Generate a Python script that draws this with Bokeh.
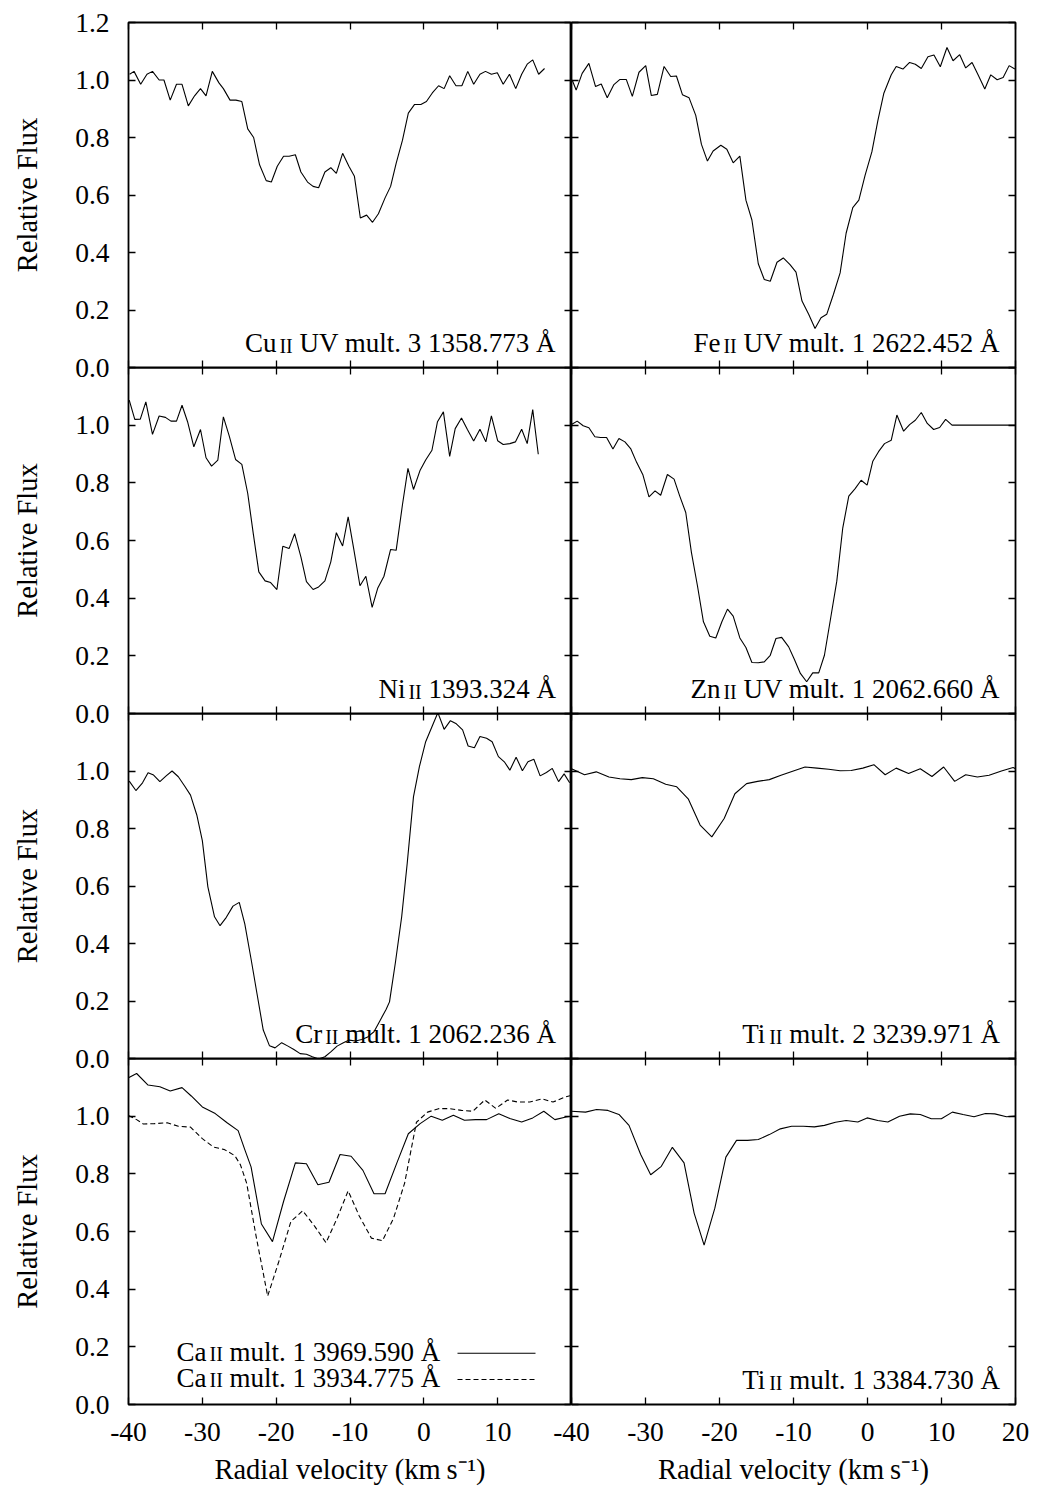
from bokeh.plotting import figure
from bokeh.layouts import row, column
from bokeh.models import Range1d, FixedTicker, PrintfTickFormatter, LinearAxis, Label, Arrow
from bokeh.embed import file_html
from bokeh.resources import INLINE

# ---------------- data (radial velocity km/s, relative flux) ----------------
cu_pts = [(-39.85,1.02),(-39.25,1.03),(-38.35,0.985),(-37.5,1.02),(-36.75,1.03),(-35.85,1.0),(-35.2,1.0),(-34.35,0.93),(-33.5,0.985),(-32.75,0.985),(-31.9,0.91),(-31.05,0.945),(-30.25,0.97),(-29.5,0.945),(-28.65,1.03),(-27.75,0.99),(-27.15,0.97),(-26.25,0.93),(-25.45,0.93),(-24.65,0.925),(-23.85,0.83),(-23.05,0.80),(-22.25,0.705),(-21.35,0.65),(-20.65,0.645),(-19.85,0.70),(-19.0,0.735),(-18.25,0.735),(-17.4,0.74),(-16.65,0.68),(-15.75,0.645),(-15.0,0.63),(-14.25,0.625),(-13.4,0.68),(-12.6,0.695),(-11.85,0.675),(-11.0,0.745),(-10.15,0.70),(-9.4,0.665),(-8.6,0.52),(-7.75,0.53),(-6.95,0.505),(-6.15,0.535),(-5.25,0.59),(-4.5,0.63),(-3.75,0.71),(-2.9,0.79),(-2.1,0.885),(-1.25,0.915),(-0.4,0.915),(0.35,0.925),(1.15,0.955),(2.0,0.98),(2.75,0.97),(3.5,1.015),(4.35,0.98),(5.15,0.98),(5.95,1.03),(6.75,0.985),(7.6,1.02),(8.35,1.03),(9.15,1.02),(9.95,1.025),(10.75,0.985),(11.6,1.02),(12.45,0.97),(13.25,1.02),(14.0,1.055),(14.75,1.07),(15.55,1.02),(16.35,1.04)]

fe_pts = [(-39.91,1.0),(-39.37,0.965),(-38.56,1.023),(-37.65,1.058),(-36.75,0.977),(-35.98,0.986),(-35.17,0.938),(-34.27,0.984),(-33.45,1.002),(-32.6,1.002),(-31.78,0.943),(-30.88,1.027),(-29.97,1.05),(-29.21,0.946),(-28.4,0.95),(-27.49,1.047),(-26.59,1.012),(-25.82,1.014),(-25.01,0.949),(-24.11,0.938),(-23.21,0.877),(-22.44,0.776),(-21.63,0.718),(-20.86,0.753),(-19.82,0.773),(-19.01,0.759),(-18.15,0.712),(-17.25,0.735),(-16.43,0.582),(-15.62,0.513),(-14.76,0.361),(-13.95,0.306),(-13.14,0.30),(-12.23,0.366),(-11.38,0.381),(-10.47,0.358),(-9.66,0.332),(-8.85,0.231),(-7.95,0.185),(-7.09,0.136),(-6.28,0.173),(-5.51,0.185),(-4.61,0.254),(-3.7,0.329),(-2.89,0.467),(-1.99,0.556),(-1.17,0.582),(-0.32,0.669),(0.59,0.75),(1.4,0.859),(2.21,0.954),(3.21,1.018),(3.88,1.047),(4.79,1.038),(5.69,1.061),(6.46,1.055),(7.27,1.04),(8.17,1.081),(8.98,1.087),(9.84,1.046),(10.74,1.113),(11.56,1.067),(12.46,1.088),(13.27,1.042),(14.13,1.061),(14.94,1.018),(15.85,0.969),(16.66,1.018),(17.52,1.001),(18.33,1.009),(19.14,1.05),(19.91,1.038)]

ni_pts = [(-39.9,1.087),(-39.15,1.02),(-38.4,1.021),(-37.65,1.081),(-36.75,0.968),(-35.85,1.032),(-35.0,1.027),(-34.25,1.014),(-33.5,1.014),(-32.75,1.069),(-32.0,1.012),(-31.15,0.925),(-30.25,0.985),(-29.5,0.887),(-28.75,0.858),(-27.9,0.879),(-27.15,1.029),(-26.35,0.962),(-25.5,0.881),(-24.65,0.864),(-23.85,0.763),(-23.1,0.624),(-22.35,0.491),(-21.5,0.46),(-20.75,0.454),(-19.9,0.43),(-19.1,0.58),(-18.25,0.572),(-17.5,0.624),(-16.65,0.543),(-15.9,0.457),(-15.0,0.43),(-14.25,0.439),(-13.4,0.46),(-12.6,0.526),(-11.85,0.627),(-11.0,0.581),(-10.25,0.682),(-9.5,0.572),(-8.65,0.443),(-7.85,0.476),(-7.0,0.368),(-6.25,0.434),(-5.4,0.476),(-4.5,0.569),(-3.75,0.566),(-2.9,0.723),(-2.15,0.85),(-1.4,0.777),(-0.5,0.844),(0.25,0.879),(1.1,0.913),(1.85,1.012),(2.65,1.046),(3.5,0.892),(4.25,0.988),(5.1,1.025),(5.9,0.985),(6.75,0.945),(7.6,0.986),(8.4,0.942),(9.15,1.032),(10.0,0.946),(10.75,0.933),(11.65,0.936),(12.4,0.942),(13.25,0.986),(14.0,0.936),(14.75,1.054),(15.5,0.899)]

zn_pts = [(-40.0,1.002),(-39.23,1.014),(-38.42,0.998),(-37.65,0.991),(-36.84,0.96),(-36.07,0.957),(-35.26,0.957),(-34.4,0.917),(-33.59,0.954),(-32.78,0.942),(-32.01,0.919),(-31.2,0.871),(-30.34,0.827),(-29.53,0.751),(-28.71,0.772),(-27.95,0.757),(-27.04,0.829),(-26.14,0.813),(-25.37,0.754),(-24.56,0.697),(-23.79,0.558),(-22.98,0.443),(-22.17,0.318),(-21.31,0.268),(-20.5,0.262),(-19.68,0.318),(-18.92,0.362),(-18.15,0.338),(-17.25,0.262),(-16.43,0.229),(-15.62,0.177),(-14.76,0.176),(-13.95,0.179),(-13.14,0.202),(-12.37,0.26),(-11.6,0.264),(-10.65,0.231),(-9.89,0.188),(-9.07,0.139),(-8.22,0.11),(-7.4,0.141),(-6.59,0.141),(-5.82,0.202),(-5.01,0.326),(-4.15,0.459),(-3.34,0.644),(-2.53,0.754),(-1.67,0.78),(-0.86,0.809),(-0.05,0.792),(0.72,0.875),(1.49,0.908),(2.3,0.936),(3.21,0.948),(3.97,1.035),(4.88,0.979),(5.69,1.002),(6.46,1.017),(7.27,1.044),(8.08,1.006),(8.94,0.985),(9.75,0.992),(10.56,1.02),(11.42,1.0),(20.0,1.0)]

cr_pts = [(-39.9,0.965),(-39.0,0.932),(-38.1,0.959),(-37.35,0.994),(-36.6,0.986),(-35.75,0.963),(-34.9,0.983),(-34.1,1.0),(-33.25,0.98),(-32.4,0.948),(-31.6,0.916),(-30.75,0.847),(-30.0,0.758),(-29.25,0.597),(-28.35,0.493),(-27.6,0.462),(-26.75,0.491),(-25.85,0.53),(-25.0,0.543),(-24.25,0.468),(-23.4,0.346),(-22.6,0.226),(-21.75,0.099),(-20.9,0.044),(-20.15,0.037),(-19.25,0.055),(-18.4,0.043),(-17.6,0.031),(-16.75,0.017),(-15.9,0.015),(-15.1,0.006),(-14.25,-0.002),(-13.4,0.006),(-12.6,0.023),(-11.75,0.043),(-10.9,0.055),(-10.1,0.064),(-9.25,0.061),(-8.4,0.066),(-7.6,0.075),(-6.75,0.093),(-5.85,0.136),(-5.1,0.171),(-4.65,0.197),(-3.85,0.334),(-3.0,0.493),(-2.25,0.679),(-1.4,0.911),(-0.6,1.015),(0.25,1.102),(1.1,1.154),(1.9,1.203),(2.75,1.145),(3.6,1.175),(4.4,1.164),(5.25,1.143),(6.0,1.087),(6.85,1.081),(7.6,1.12),(8.5,1.114),(9.25,1.102),(10.1,1.05),(10.9,1.032),(11.65,1.003),(12.5,1.048),(13.35,1.001),(14.1,1.032),(14.9,1.041),(15.75,0.983),(16.6,0.995),(17.4,1.009),(18.25,0.963),(19.0,0.99),(19.75,0.959)]

ti3239_pts = [(-40.0,1.008),(-38.24,0.987),(-36.66,0.997),(-34.94,0.979),(-33.45,0.973),(-31.92,0.97),(-30.43,0.977),(-28.94,0.973),(-27.27,0.954),(-25.78,0.945),(-24.2,0.902),(-22.62,0.812),(-21.04,0.771),(-19.37,0.835),(-17.92,0.921),(-16.34,0.956),(-14.85,0.964),(-13.27,0.97),(-11.69,0.985),(-10.02,1.0),(-8.44,1.014),(-6.82,1.01),(-5.24,1.006),(-3.7,1.001),(-2.21,1.002),(-0.63,1.01),(0.86,1.022),(2.39,0.987),(3.88,1.01),(5.55,0.991),(7.13,1.008),(8.71,0.981),(10.29,1.014),(11.78,0.964),(13.27,0.987),(14.85,0.979),(16.43,0.985),(18.1,1.0),(19.68,1.012),(20.0,1.008)]

ca3969_pts = [(-40.0,1.133),(-38.9,1.148),(-37.35,1.108),(-35.75,1.102),(-34.35,1.087),(-32.75,1.099),(-31.5,1.07),(-30.0,1.032),(-28.25,1.009),(-26.65,0.977),(-25.15,0.95),(-24.25,0.884),(-23.4,0.824),(-22.0,0.626),(-20.5,0.565),(-19.0,0.704),(-17.4,0.838),(-15.9,0.835),(-14.35,0.762),(-12.85,0.771),(-11.35,0.867),(-9.85,0.861),(-8.25,0.812),(-6.75,0.731),(-5.25,0.731),(-3.65,0.838),(-2.1,0.939),(-0.5,0.974),(1.0,1.0),(2.5,0.986),(4.0,1.003),(5.5,0.986),(7.0,0.988),(8.5,0.988),(10.15,1.008),(11.65,0.992),(13.25,0.98),(14.75,0.994),(16.25,1.017),(17.75,0.988),(19.25,0.997),(20.0,1.0)]

ca3934_pts = [(-40.0,1.002),(-38.9,0.988),(-38.0,0.973),(-36.5,0.974),(-34.75,0.977),(-33.25,0.965),(-31.6,0.962),(-30.0,0.922),(-28.5,0.893),(-27.0,0.884),(-25.6,0.863),(-24.85,0.832),(-24.0,0.768),(-22.75,0.588),(-21.15,0.376),(-19.65,0.495),(-18.0,0.635),(-16.4,0.672),(-14.75,0.617),(-13.25,0.561),(-11.75,0.646),(-10.25,0.741),(-8.75,0.654),(-7.1,0.577),(-5.6,0.568),(-4.1,0.646),(-2.6,0.768),(-1.0,0.979),(0.5,1.014),(2.0,1.026),(3.5,1.026),(5.1,1.02),(6.65,1.017),(8.25,1.056),(9.75,1.027),(11.35,1.056),(12.75,1.049),(14.35,1.049),(16.0,1.06),(17.5,1.049),(19.1,1.066),(20.0,1.072)]

ti3384_pts = [(-40.0,1.017),(-38.1,1.014),(-36.61,1.023),(-35.08,1.02),(-33.59,1.006),(-32.23,0.968),(-30.65,0.867),(-29.3,0.797),(-27.86,0.826),(-26.37,0.892),(-24.79,0.838),(-23.43,0.664),(-22.08,0.553),(-20.63,0.681),(-19.14,0.858),(-17.7,0.916),(-16.21,0.916),(-14.76,0.919),(-13.27,0.936),(-11.78,0.956),(-10.25,0.965),(-8.67,0.965),(-7.18,0.963),(-5.82,0.968),(-4.33,0.979),(-2.89,0.985),(-1.31,0.98),(-0.05,0.994),(1.4,0.985),(2.75,0.98),(4.33,1.0),(5.78,1.008),(7.13,1.006),(8.62,0.991),(9.98,0.991),(11.47,1.014),(12.91,1.006),(14.4,0.998),(15.94,1.009),(17.2,1.008),(18.78,0.998),(20.0,1.0)]

# panel texts: (element, ionisation, rest of the label)
panel_labels = {
    (0, 0): ("Cu", "II", "UV mult. 3 1358.773 Å"),
    (0, 1): ("Fe", "II", "UV mult. 1 2622.452 Å"),
    (1, 0): ("Ni", "II", "1393.324 Å"),
    (1, 1): ("Zn", "II", "UV mult. 1 2062.660 Å"),
    (2, 0): ("Cr", "II", "mult. 1 2062.236 Å"),
    (2, 1): ("Ti", "II", "mult. 2 3239.971 Å"),
    (3, 1): ("Ti", "II", "mult. 1 3384.730 Å"),
}
legend_labels = [("Ca", "II", "mult. 1 3969.590 Å"), ("Ca", "II", "mult. 1 3934.775 Å")]

x_ticks = [-40, -30, -20, -10, 0, 10, 20]
y_ticks = [0.0, 0.2, 0.4, 0.6, 0.8, 1.0, 1.2]
x_title = "Radial velocity (km\u2009s\u207b\u00b9)"
y_title = "Relative Flux"

# ---------------- styling ----------------
FONT = "Liberation Serif"
TFS = 27.5     # tick labels
FS = 27.0      # annotations
SC = 20.0      # small capital roman numeral
AXFS = 28.5    # axis titles
GAP = 3.0
MID = 0.3375   # middle of text box above the baseline, in em
FRAME_W = [443, 444]
FRAME_H = [345, 346, 345, 346]
OV = 20

# Times / Liberation Serif advance widths (per 1000 em)
W = {' ': 250, '.': 250, 'A': 722, 'Å': 722, 'C': 667, 'u': 500, 'U': 722, 'V': 722,
     'm': 778, 'l': 278, 't': 278, 'F': 556, 'e': 444, 'N': 722, 'i': 278, 'Z': 611,
     'n': 500, 'r': 333, 'T': 611, 'I': 333, 'a': 444, 'c': 444}
for d in "0123456789":
    W[d] = 500


def tw(s, size):
    return sum(W.get(c, 500) for c in s) * size / 1000.0


def style_axis(ax, ticks, show_labels, fmt=None, title=None, standoff=0, title_standoff=0):
    ax.ticker = FixedTicker(ticks=ticks)
    ax.major_tick_in = 7
    ax.major_tick_out = 0
    ax.major_tick_line_color = "black"
    ax.major_tick_line_width = 1.3
    ax.minor_tick_line_color = None
    ax.axis_line_color = None
    if show_labels:
        ax.formatter = PrintfTickFormatter(format=fmt)
        ax.major_label_text_font = FONT
        ax.major_label_text_font_size = f"{TFS}px"
        ax.major_label_text_color = "black"
        ax.major_label_standoff = standoff
    else:
        ax.major_label_text_font_size = "0px"
        ax.major_label_text_color = None
        ax.major_label_standoff = 0
    if title is not None:
        ax.axis_label = title
        ax.axis_label_text_font = FONT
        ax.axis_label_text_font_size = f"{AXFS}px"
        ax.axis_label_text_font_style = "normal"
        ax.axis_label_text_color = "black"
        ax.axis_label_standoff = title_standoff


def add_ion_text(p, x0, base, elem, ion, rest):
    kw = dict(x_units="screen", y_units="screen", text_font=FONT, text_color="black",
              text_align="left", text_baseline="middle")
    p.add_layout(Label(x=x0, y=base + MID * FS, text=elem, text_font_size=f"{FS}px", **kw))
    x1 = x0 + tw(elem, FS) + GAP
    p.add_layout(Label(x=x1, y=base + MID * SC, text=ion, text_font_size=f"{SC}px", **kw))
    x2 = x1 + tw(ion, SC) + tw(" ", FS)
    p.add_layout(Label(x=x2, y=base + MID * FS, text=rest, text_font_size=f"{FS}px", **kw))


def ion_width(elem, ion, rest):
    return tw(elem, FS) + GAP + tw(ion, SC) + tw(" ", FS) + tw(rest, FS)


def make_panel(r, c):
    left = c == 0
    top = r == 0
    bottom = r == 3
    fw, fh = FRAME_W[c], FRAME_H[r]
    mbl = 128 if left else OV
    mbr = 0 if left else 22
    mbt = 22 if top else 0
    mbb = 90 if bottom else OV
    p = figure(width=fw + mbl + mbr, height=fh + mbt + mbb,
               x_range=Range1d(-40, 20), y_range=Range1d(0, 1.2),
               output_backend="svg", toolbar_location=None,
               min_border_left=mbl, min_border_right=mbr,
               min_border_top=mbt, min_border_bottom=mbb,
               margin=None if left else (0, 0, 0, -OV))
    p.background_fill_color = None
    p.border_fill_color = None
    p.outline_line_color = "black"
    p.outline_line_width = 1.8
    p.grid.visible = False

    if bottom:
        xt = x_ticks[:-1] if left else x_ticks
        style_axis(p.xaxis[0], xt, True, fmt="%d", title=x_title, standoff=18, title_standoff=10)
    else:
        style_axis(p.xaxis[0], x_ticks, False)
    if left:
        yt = y_ticks if top else y_ticks[:-1]
        style_axis(p.yaxis[0], yt, True, fmt="%.1f", title=y_title, standoff=19, title_standoff=29)
    else:
        style_axis(p.yaxis[0], y_ticks, False)
    ax_top = LinearAxis()
    style_axis(ax_top, x_ticks, False)
    p.add_layout(ax_top, "above")
    ax_right = LinearAxis()
    style_axis(ax_right, y_ticks, False)
    p.add_layout(ax_right, "right")
    return p, fw


series = {
    (0, 0): [cu_pts], (0, 1): [fe_pts], (1, 0): [ni_pts], (1, 1): [zn_pts],
    (2, 0): [cr_pts], (2, 1): [ti3239_pts], (3, 0): [ca3969_pts, ca3934_pts], (3, 1): [ti3384_pts],
}
dashes = ["solid", "5 3"]

rows = []
for r in range(4):
    figs = []
    for c in range(2):
        p, fw = make_panel(r, c)
        for k, pts in enumerate(series[(r, c)]):
            xs = [v for v, f in pts]
            ys = [f for v, f in pts]
            p.line(xs, ys, line_color="black", line_width=1.1, line_dash=dashes[k])
        if (r, c) in panel_labels:
            elem, ion, rest = panel_labels[(r, c)]
            x0 = fw - 15.5 - ion_width(elem, ion, rest)
            add_ion_text(p, x0, 15.0, elem, ion, rest)
        else:
            bases = [43.3, 17.3]
            line_y = [51.3, 25.0]
            for k, (elem, ion, rest) in enumerate(legend_labels):
                add_ion_text(p, 48.0, bases[k], elem, ion, rest)
                p.add_layout(Arrow(start=None, end=None, x_start=329, y_start=line_y[k],
                                   x_end=407, y_end=line_y[k], start_units="screen",
                                   end_units="screen", line_color="black", line_width=1.1,
                                   line_dash=dashes[k]))
        figs.append(p)
    if r == 0:
        rows.append(row(*figs))
    else:
        rows.append(row(*figs, margin=(-OV, 0, 0, 0)))

layout = column(*rows)
open("out.html", "w").write(file_html(layout, INLINE, title="Relative flux profiles"))
